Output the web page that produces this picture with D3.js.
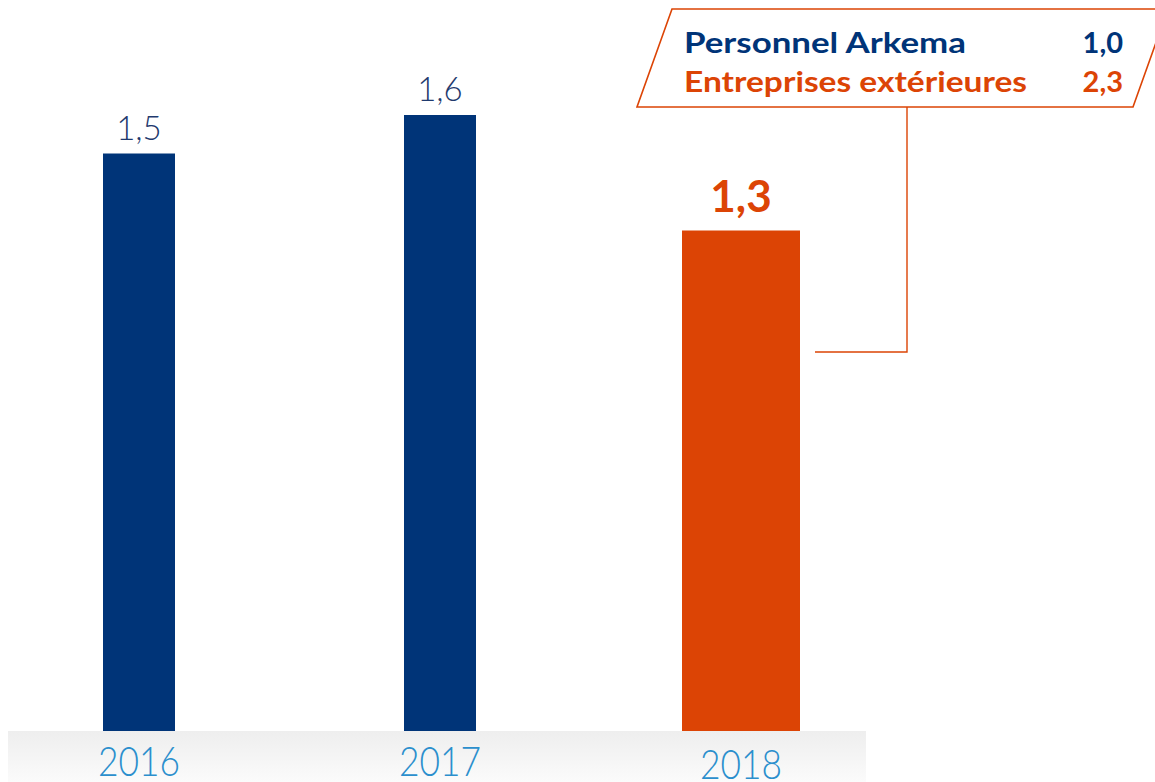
<!DOCTYPE html>
<html>
<head>
<meta charset="utf-8">
<script src="https://cdn.jsdelivr.net/npm/d3@7"></script>
<style>
  html, body { margin: 0; padding: 0; background: #fff; }
  svg { display: block; }
</style>
</head>
<body>
<div id="chart"></div>
<script>
const years = ["2016", "2017", "2018"];
const values = [1.5, 1.6, 1.3];
const breakdownLabels = ["Personnel Arkema", "Entreprises extérieures"];
const breakdownValues = [1.0, 2.3];

const svgWidth = 1155;
const svgHeight = 782;
const baseline = 731;

const navy = "#003478";
const orange = "#dc4405";
const fmt = v => d3.format(".1f")(v).replace(".", ",");

const svg = d3.select("#chart")
    .append("svg")
    .attr("width", svgWidth)
    .attr("height", svgHeight);

// grey band under the bars
const grad = svg.append("defs").append("linearGradient")
    .attr("id", "band").attr("x1", 0).attr("y1", 0).attr("x2", 0).attr("y2", 1);
grad.append("stop").attr("offset", "0%").attr("stop-color", "#eeeeee");
grad.append("stop").attr("offset", "100%").attr("stop-color", "#fbfbfb");
svg.append("rect")
    .attr("x", 8).attr("y", baseline)
    .attr("width", 858).attr("height", svgHeight - baseline)
    .attr("fill", "url(#band)");

const x = d3.scalePoint()
    .domain(years)
    .range([139, 741]);

const last = years.length - 1;
const barW = i => i === last ? 118 : 72;  // highlighted year is wider

const y = d3.scaleLinear()
    .domain([0, 1.6])
    .range([baseline, baseline - 616]);

svg.selectAll("rect.bar")
    .data(values)
    .join("rect")
    .attr("class", "bar")
    .attr("x", (d, i) => x(years[i]) - barW(i) / 2)
    .attr("y", d => y(d))
    .attr("width", (d, i) => barW(i))
    .attr("height", d => y(0) - y(d))
    .attr("fill", (d, i) => i === last ? orange : navy);

// value labels
svg.selectAll("text.val")
    .data(values)
    .join("text")
    .attr("class", "val")
    .attr("x", (d, i) => x(years[i]))
    .attr("y", (d, i) => y(d) - (i === last ? 19 : 14))
    .attr("text-anchor", "middle")
    .attr("font-family", "Lato, 'Open Sans', sans-serif")
    .attr("font-size", (d, i) => i === last ? "44px" : "33px")
    .attr("font-weight", (d, i) => i === last ? 700 : 300)
    .attr("fill", (d, i) => i === last ? orange : "#1f3a6e")
    .text(d => fmt(d));

// year labels
svg.selectAll("text.year")
    .data(years)
    .join("text")
    .attr("class", "year")
    .attr("x", d => x(d) - 41)
    .attr("y", (d, i) => i === last ? 779 : 776)
    .attr("textLength", 82)
    .attr("lengthAdjust", "spacingAndGlyphs")
    .attr("font-family", "Lato, sans-serif")
    .attr("font-size", "41px")
    .attr("font-weight", 300)
    .attr("fill", "#2b8fcd")
    .text(d => d);

// callout box
const boxTop = 9, boxBot = 107;
svg.append("path")
    .attr("d", `M672,${boxTop} L1168,${boxTop} L1133,${boxBot} L637,${boxBot} Z`)
    .attr("fill", "#fff")
    .attr("stroke", orange)
    .attr("stroke-width", 1.6);

// leader line to the 2018 bar
svg.append("path")
    .attr("d", `M907,${boxBot} L907,352 L815,352`)
    .attr("fill", "none")
    .attr("stroke", orange)
    .attr("stroke-width", 1.4);

const legendY = [53, 92];
const legendW = [282, 343];
const legendCol = [navy, orange];

svg.selectAll("text.leg")
    .data(breakdownLabels)
    .join("text")
    .attr("class", "leg")
    .attr("x", 684)
    .attr("y", (d, i) => legendY[i])
    .attr("textLength", (d, i) => legendW[i])
    .attr("lengthAdjust", "spacingAndGlyphs")
    .attr("font-family", "Lato, 'Open Sans', sans-serif")
    .attr("font-size", "29px")
    .attr("font-weight", 700)
    .attr("fill", (d, i) => legendCol[i])
    .text(d => d);

svg.selectAll("text.legv")
    .data(breakdownValues)
    .join("text")
    .attr("class", "legv")
    .attr("x", 1123)
    .attr("y", (d, i) => legendY[i])
    .attr("text-anchor", "end")
    .attr("font-family", "Lato, 'Open Sans', sans-serif")
    .attr("font-size", "29px")
    .attr("font-weight", 700)
    .attr("fill", (d, i) => legendCol[i])
    .text(d => fmt(d));
</script>
</body>
</html>
